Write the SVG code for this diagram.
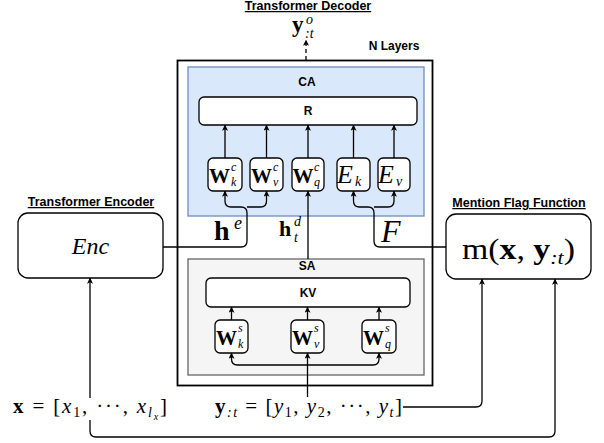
<svg xmlns="http://www.w3.org/2000/svg" width="604" height="443" viewBox="0 0 604 443">
  <style>
    .lbl { font-family: "Liberation Sans", Arial, sans-serif; font-weight: bold; font-size: 12px; fill: #000; }
    .hd { font-size: 12.5px; text-decoration: underline; }
    .m { font-family: "Liberation Serif", "Times New Roman", serif; fill: #000; }
    .bf { font-weight: bold; }
    .it { font-style: italic; }
    .wire { fill: none; stroke: #000; stroke-width: 1.3; }
    .box { fill: #fff; stroke: #000; stroke-width: 1.3; }
  </style>
  <defs>
    <marker id="arr" viewBox="0 0 8 8" refX="7.5" refY="4" markerWidth="6" markerHeight="6" markerUnits="userSpaceOnUse" orient="auto">
      <path d="M0,0 L8,4 L0,8 L2,4 z" fill="#000"/>
    </marker>
  </defs>

  <rect width="604" height="443" fill="#fff"/>

  <!-- headings -->
  <text class="lbl hd" x="308" y="10" text-anchor="middle">Transformer Decoder</text>
  <text class="lbl" x="394" y="50" text-anchor="middle">N Layers</text>
  <text class="lbl hd" x="91" y="206" text-anchor="middle">Transformer Encoder</text>
  <text class="lbl hd" x="519" y="207" text-anchor="middle">Mention Flag Function</text>

  <!-- decoder layer stack -->
  <g id="decoder">
    <rect x="177.5" y="60.5" width="255" height="325" fill="none" stroke="#000" stroke-width="1.8"/>
  </g>

  <g id="cross-attention">
    <rect x="188" y="67" width="236" height="149" fill="#dae8fc" stroke="#6c8ebf" stroke-width="1.3"/>
    <text class="lbl" x="307" y="86" text-anchor="middle">CA</text>
  </g>

  <g id="self-attention">
    <rect x="188" y="259" width="236" height="116" fill="#f5f5f5" stroke="#666" stroke-width="1.3"/>
    <text class="lbl" x="307" y="270" text-anchor="middle">SA</text>
  </g>

  <g id="R">
    <rect class="box" x="199" y="97" width="218" height="28" rx="5"/>
    <text class="lbl" x="308" y="115" text-anchor="middle">R</text>
  </g>

  <g id="KV">
    <rect class="box" x="206" y="278" width="204" height="29" rx="5"/>
    <text class="lbl" x="308" y="297" text-anchor="middle">KV</text>
  </g>

  <!-- cross-attention projections -->
  <g id="Wck">
    <rect class="box" x="208" y="158" width="34" height="33" rx="5"/>
    <text class="m bf" x="209" y="183" font-size="21">W</text>
    <text class="m it" x="231" y="171" font-size="12">c</text>
    <text class="m it" x="231" y="186" font-size="12">k</text>
  </g>
  <g id="Wcv">
    <rect class="box" x="250" y="158" width="33" height="33" rx="5"/>
    <text class="m bf" x="251" y="183" font-size="21">W</text>
    <text class="m it" x="273" y="171" font-size="12">c</text>
    <text class="m it" x="273" y="186" font-size="12">v</text>
  </g>
  <g id="Wcq">
    <rect class="box" x="292" y="158" width="32" height="33" rx="5"/>
    <text class="m bf" x="292.5" y="183" font-size="21">W</text>
    <text class="m it" x="314" y="171" font-size="12">c</text>
    <text class="m it" x="314" y="186" font-size="12">q</text>
  </g>
  <g id="Ek">
    <rect class="box" x="337" y="158" width="33" height="33" rx="5"/>
    <text class="m it" x="337" y="183" font-size="26">E</text>
    <text class="m it" x="355" y="186" font-size="14">k</text>
  </g>
  <g id="Ev">
    <rect class="box" x="378" y="158" width="32" height="33" rx="5"/>
    <text class="m it" x="378" y="183" font-size="26">E</text>
    <text class="m it" x="396" y="186" font-size="14">v</text>
  </g>

  <!-- self-attention projections -->
  <g id="Wsk">
    <rect class="box" x="215" y="320" width="33" height="33" rx="5"/>
    <text class="m bf" x="216" y="345" font-size="21">W</text>
    <text class="m it" x="238" y="332" font-size="12">s</text>
    <text class="m it" x="238" y="348" font-size="12">k</text>
  </g>
  <g id="Wsv">
    <rect class="box" x="291" y="320" width="33" height="33" rx="5"/>
    <text class="m bf" x="292" y="345" font-size="21">W</text>
    <text class="m it" x="314" y="332" font-size="12">s</text>
    <text class="m it" x="314" y="348" font-size="12">v</text>
  </g>
  <g id="Wsq">
    <rect class="box" x="362" y="320" width="34" height="33" rx="5"/>
    <text class="m bf" x="363" y="345" font-size="21">W</text>
    <text class="m it" x="385" y="332" font-size="12">s</text>
    <text class="m it" x="385" y="348" font-size="12">q</text>
  </g>

  <!-- encoder and mention flag function -->
  <g id="enc">
    <rect class="box" x="18" y="213" width="145" height="65" rx="10"/>
    <text class="m it" x="90.5" y="254" font-size="24" text-anchor="middle">Enc</text>
  </g>
  <g id="mention-flag">
    <rect class="box" x="446" y="214" width="145" height="65" rx="10"/>
    <text class="m" x="462" y="259" font-size="29" textLength="113" lengthAdjust="spacingAndGlyphs">m(<tspan class="bf">x</tspan>, <tspan class="bf">y</tspan><tspan font-size="19" font-style="italic" dy="5">:t</tspan><tspan dy="-5">)</tspan></text>
  </g>

  <!-- connectors -->
  <g id="connectors">
    <!-- decoder output -->
    <path class="wire" d="M306,60 V40" stroke-dasharray="4,3" marker-end="url(#arr)"/>
    <!-- projections into R -->
    <path class="wire" d="M225,158 V125" marker-end="url(#arr)"/>
    <path class="wire" d="M266.5,158 V125" marker-end="url(#arr)"/>
    <path class="wire" d="M308,158 V125" marker-end="url(#arr)"/>
    <path class="wire" d="M353.5,158 V125" marker-end="url(#arr)"/>
    <path class="wire" d="M394,158 V125" marker-end="url(#arr)"/>
    <!-- encoder states h^e -->
    <path class="wire" d="M163,247 H241 Q247,247 247,241 V213 Q247,207 241,207 H231 Q225,207 225,201 V191" marker-end="url(#arr)"/>
    <path class="wire" d="M247,207 H260.5 Q266.5,207 266.5,201 V191" marker-end="url(#arr)"/>
    <!-- decoder state h^d_t -->
    <path class="wire" d="M308,259 V191" marker-end="url(#arr)"/>
    <!-- mention flags F -->
    <path class="wire" d="M446,247 H380 Q374,247 374,241 V213 Q374,207 368,207 H359.5 Q353.5,207 353.5,201 V191" marker-end="url(#arr)"/>
    <path class="wire" d="M374,207 H388 Q394,207 394,201 V191" marker-end="url(#arr)"/>
    <!-- self-attention projections into KV -->
    <path class="wire" d="M231.5,320 V307" marker-end="url(#arr)"/>
    <path class="wire" d="M307.5,320 V307" marker-end="url(#arr)"/>
    <path class="wire" d="M379,320 V307" marker-end="url(#arr)"/>
    <!-- decoder input y_{:t} -->
    <path class="wire" d="M307.5,397 V365 H237.5 Q231.5,365 231.5,359 V353" marker-end="url(#arr)"/>
    <path class="wire" d="M307.5,365 V353" marker-end="url(#arr)"/>
    <path class="wire" d="M307.5,365 H373 Q379,365 379,359 V353" marker-end="url(#arr)"/>
    <!-- y_{:t} into mention flag function -->
    <path class="wire" d="M403,407 H476 Q482,407 482,401 V279" marker-end="url(#arr)"/>
    <!-- x into encoder and mention flag function -->
    <path class="wire" d="M90,398 V278" marker-end="url(#arr)"/>
    <path class="wire" d="M90,420 V431 Q90,437 96,437 H549 Q555,437 555,431 V279" marker-end="url(#arr)"/>
  </g>

  <!-- edge labels -->
  <text class="m bf" x="214" y="240" font-size="28">h</text>
  <text class="m it" x="234" y="229" font-size="18">e</text>
  <text class="m bf" x="279" y="236" font-size="22">h</text>
  <text class="m it" x="294" y="226" font-size="14">d</text>
  <text class="m it" x="294" y="242" font-size="14">t</text>
  <text class="m it" x="381" y="242" font-size="32">F</text>

  <!-- output y^o_{:t} -->
  <text class="m bf" x="292" y="32" font-size="23">y</text>
  <text class="m it" x="306" y="24" font-size="14">o</text>
  <text class="m it" x="305" y="38" font-size="14">:t</text>

  <!-- input sequences -->
  <text class="m" x="13" y="413" font-size="21" textLength="154" lengthAdjust="spacing"><tspan class="bf">x</tspan> = [<tspan class="it">x</tspan><tspan font-size="14" dy="4">1</tspan><tspan dy="-4">, ···, </tspan><tspan class="it">x</tspan><tspan class="it" font-size="14" dy="4">l</tspan><tspan class="it" font-size="10" dy="3">x</tspan><tspan dy="-7">]</tspan></text>
  <text class="m" x="215" y="413" font-size="21" textLength="187" lengthAdjust="spacing"><tspan class="bf">y</tspan><tspan class="it" font-size="14" dy="4">:t</tspan><tspan dy="-4"> = [</tspan><tspan class="it">y</tspan><tspan font-size="14" dy="4">1</tspan><tspan dy="-4">, </tspan><tspan class="it">y</tspan><tspan font-size="14" dy="4">2</tspan><tspan dy="-4">, ···, </tspan><tspan class="it">y</tspan><tspan class="it" font-size="14" dy="4">t</tspan><tspan dy="-4">]</tspan></text>
</svg>
